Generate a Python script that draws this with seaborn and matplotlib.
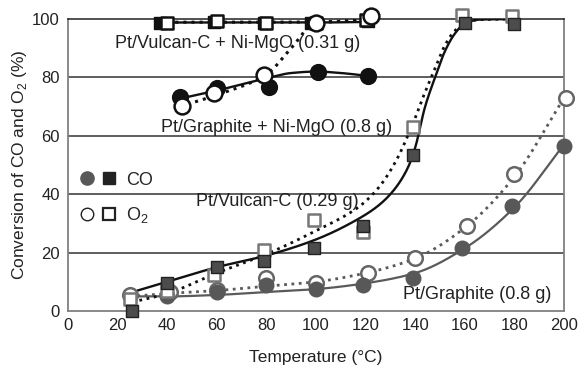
import numpy as np
import pandas as pd
import matplotlib
matplotlib.use("Agg")
import matplotlib.pyplot as plt
import seaborn as sns
from matplotlib.lines import Line2D
from matplotlib.legend_handler import HandlerTuple

# ---------------- data ----------------
# Pt/Vulcan-C (0.29 g)
vulcan_co_T = [26, 40, 60, 79, 99, 119, 139, 160, 180]
vulcan_co = [0, 9.5, 15, 17, 21.5, 29, 53.5, 98.7, 98.3]
vulcan_o2_T = [25, 40, 59, 79, 99, 119, 139, 159, 179]
vulcan_o2 = [4, 7, 12.5, 21, 31, 27, 63, 101.4, 101]
# fitted curves (knots)
vulcan_co_fit_T = [28, 40, 60, 80, 100, 117, 125, 131, 137, 140, 144, 148, 152, 156, 160, 166, 181]
vulcan_co_fit = [7, 10, 15, 19, 24.5, 31.5, 36, 41, 49, 56, 70, 80, 89, 95, 98.5, 99.8, 100]
vulcan_o2_fit_T = [23, 40, 60, 80, 100, 117, 125, 132, 139, 144, 148, 152, 156, 160, 166, 181]
vulcan_o2_fit = [2.5, 6, 13, 19.5, 27.5, 35.5, 42, 51, 64, 75, 83, 91, 96, 98.5, 99.8, 100]

# Pt/Graphite (0.8 g)
graphite_co_T = [40, 60, 80, 100, 119, 139, 159, 179, 200]
graphite_co = [5.2, 6.6, 8.9, 7.4, 8.9, 11.2, 21.5, 36, 56.5]
graphite_o2_T = [25, 41, 60, 80, 100, 121, 140, 161, 180, 201]
graphite_o2 = [5.5, 6.6, 7.2, 11.2, 9.5, 13.1, 18.3, 29.1, 46.9, 72.8]
graphite_co_fit_T = [25, 40, 60, 80, 100, 120, 140, 160, 180, 200]
graphite_co_fit = [5, 5, 5.5, 6.5, 7.5, 9.5, 13, 21.5, 35.5, 57]
graphite_o2_fit_T = [25, 40, 60, 80, 100, 120, 140, 160, 180, 200]
graphite_o2_fit = [5, 6, 7, 8.5, 10, 13, 18, 28.5, 46, 73]

# Pt/Graphite + Ni-MgO (0.8 g)
gnm_co_T = [45, 60, 81, 101, 121]
gnm_co = [73.4, 76.3, 76.6, 82, 80.5]
gnm_o2_T = [46, 59, 79, 100, 122]
gnm_o2 = [70.2, 74.8, 80.8, 98.7, 101]
gnm_co_fit_T = [44, 60, 80, 90, 100, 110, 121]
gnm_co_fit = [72.5, 75.5, 79.7, 81.5, 82, 81.5, 80.5]
gnm_o2_fit_T = [45, 60, 80, 90, 100, 110, 122]
gnm_o2_fit = [70, 74, 81, 90, 98.8, 99.2, 100]

# Pt/Vulcan-C + Ni-MgO (0.31 g)
vnm_co_T = [37, 59, 79, 98, 121]
vnm_co = [98.8, 99, 98.8, 98.8, 99.2]
vnm_o2_T = [40, 60, 80, 100, 120]
vnm_o2 = [98.8, 99.2, 98.8, 98.8, 99.5]
vnm_co_fit_T = [37, 60, 80, 100, 121]
vnm_co_fit = [98.8, 98.8, 98.8, 98.8, 99]
vnm_o2_fit_T = [40, 60, 80, 100, 122]
vnm_o2_fit = [98.9, 98.9, 98.9, 99, 99.5]

x_ticks = [0, 20, 40, 60, 80, 100, 120, 140, 160, 180, 200]
y_ticks = [0, 20, 40, 60, 80, 100]


def pchip(x, y, xs):
    x = np.asarray(x, float)
    y = np.asarray(y, float)
    h = np.diff(x)
    d = np.diff(y) / h
    m = np.zeros_like(y)
    for k in range(1, len(x) - 1):
        if d[k - 1] * d[k] > 0:
            w1 = 2 * h[k] + h[k - 1]
            w2 = h[k] + 2 * h[k - 1]
            m[k] = (w1 + w2) / (w1 / d[k - 1] + w2 / d[k])
    m[0] = d[0]
    m[-1] = d[-1]
    idx = np.clip(np.searchsorted(x, xs) - 1, 0, len(h) - 1)
    t = (xs - x[idx]) / h[idx]
    h00 = 2 * t**3 - 3 * t**2 + 1
    h10 = t**3 - 2 * t**2 + t
    h01 = -2 * t**3 + 3 * t**2
    h11 = t**3 - t**2
    return h00 * y[idx] + h10 * h[idx] * m[idx] + h01 * y[idx + 1] + h11 * h[idx] * m[idx + 1]


sns.set_style("white")
plt.rcParams["font.family"] = ["Liberation Sans", "DejaVu Sans"]
plt.rcParams["mathtext.fontset"] = "custom"
plt.rcParams["mathtext.rm"] = "Liberation Sans"

fig = plt.figure(figsize=(5.82, 3.69), dpi=100)
ax = fig.add_axes([68 / 582, 1 - 311 / 369, 496 / 582, 292 / 369])


def curve(T, V, color, ls, lw, z):
    xs = np.linspace(T[0], T[-1], 300)
    ys = pchip(T, V, xs)
    sns.lineplot(x=xs, y=ys, ax=ax, color=color, linestyle=ls, linewidth=lw,
                 zorder=z, sort=False, estimator=None)


def points(T, V, marker, size, face, edge, lw, z):
    sns.scatterplot(x=T, y=V, ax=ax, marker=marker, s=size, color=face,
                    edgecolor=edge, linewidth=lw, zorder=z, clip_on=False)


# Pt/Graphite
curve(graphite_co_fit_T, graphite_co_fit, "#5a5a5a", "-", 1.6, 3)
curve(graphite_o2_fit_T, graphite_o2_fit, "#5a5a5a", ":", 2.0, 3)
points(graphite_o2_T, graphite_o2, "o", 110, "white", "#666666", 1.8, 4)
points(graphite_co_T, graphite_co, "o", 110, "#585858", "#585858", 1.0, 5)

# Pt/Vulcan-C
curve(vulcan_co_fit_T, vulcan_co_fit, "#111111", "-", 1.7, 3)
curve(vulcan_o2_fit_T, vulcan_o2_fit, "#111111", ":", 2.0, 3)
points(vulcan_o2_T, vulcan_o2, "s", 85, "white", "#777777", 1.8, 6)
points(vulcan_co_T, vulcan_co, "s", 85, "#4c4c4c", "#222222", 1.0, 7)

# Pt/Vulcan-C + Ni-MgO
curve(vnm_co_fit_T, vnm_co_fit, "#111111", "-", 1.7, 3)
curve(vnm_o2_fit_T, vnm_o2_fit, "#111111", ":", 2.2, 3)
points(vnm_co_T, vnm_co, "s", 85, "#111111", "#111111", 1.0, 6)
points(vnm_o2_T, vnm_o2, "s", 85, "white", "#111111", 1.8, 7)

# Pt/Graphite + Ni-MgO
curve(gnm_co_fit_T, gnm_co_fit, "#111111", "-", 1.7, 3)
curve(gnm_o2_fit_T, gnm_o2_fit, "#111111", ":", 2.2, 3)
points(gnm_co_T, gnm_co, "o", 130, "#111111", "#111111", 1.0, 8)
points(gnm_o2_T, gnm_o2, "o", 130, "white", "#111111", 1.8, 9)

# axes styling
ax.set_xlim(0, 200)
ax.set_ylim(0, 100)
ax.set_xticks(x_ticks)
ax.set_yticks(y_ticks)
ax.set_xticklabels([str(v) for v in x_ticks], fontsize=12, color="#222222")
ax.set_yticklabels([str(v) for v in y_ticks], fontsize=12, color="#222222")
ax.tick_params(axis="x", direction="in", length=8, width=1.0, color="#444444", pad=5)
ax.tick_params(axis="y", length=0, pad=6)
ax.grid(False)
for v in y_ticks[1:-1]:
    ax.axhline(v, color="#333333", lw=1.1, zorder=1)
for side in ["left", "bottom", "right"]:
    ax.spines[side].set_color("#808080")
    ax.spines[side].set_linewidth(1.3)
ax.spines["top"].set_color("#222222")
ax.spines["top"].set_linewidth(1.1)

ax.set_xlabel("Temperature (°C)", fontsize=12.5, color="#222222", labelpad=12)
ax.set_ylabel("Conversion of CO and O$_2$ (%)", fontsize=12.5, color="#222222", labelpad=2)

# annotations
tk = dict(fontsize=13, color="#222222", va="center", ha="left", zorder=10)
ax.text(19, 91.5, "Pt/Vulcan-C + Ni-MgO (0.31 g)", **tk)
ax.text(37.5, 63, "Pt/Graphite + Ni-MgO (0.8 g)", **tk)
ax.text(51.5, 37.5, "Pt/Vulcan-C (0.29 g)", **tk)
ax.text(135, 5.5, "Pt/Graphite (0.8 g)", **tk)

# legend
c_fill = Line2D([], [], marker="o", ls="", ms=9.5, mfc="#585858", mec="#585858")
s_fill = Line2D([], [], marker="s", ls="", ms=8, mfc="#222222", mec="#222222")
c_open = Line2D([], [], marker="o", ls="", ms=9, mfc="white", mec="#222222", mew=1.0)
s_open = Line2D([], [], marker="s", ls="", ms=8, mfc="white", mec="#222222", mew=1.6)
ax.legend(handles=[(c_fill, s_fill), (c_open, s_open)], labels=["CO", "O$_2$"],
          handler_map={tuple: HandlerTuple(ndivide=None, pad=0.6)},
          loc="upper left", bbox_to_anchor=(0.0, 0.52), frameon=False,
          fontsize=13, handlelength=1.9, handletextpad=0.6, labelspacing=0.9,
          borderaxespad=0.3)

fig.savefig("out.png", dpi=100)
